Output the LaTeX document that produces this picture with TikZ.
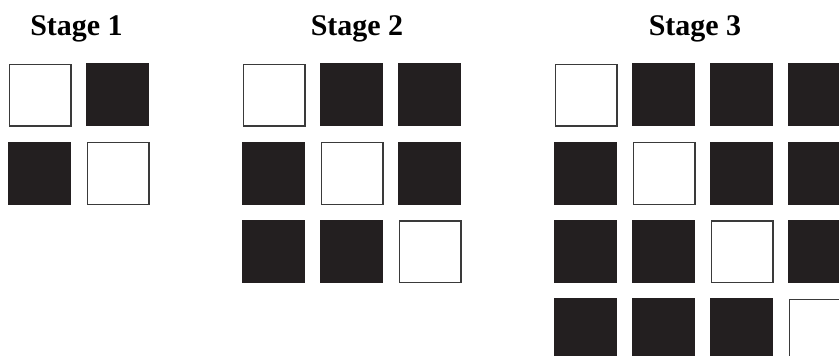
\documentclass[tikz,border=0pt]{standalone}
\usepackage{fontspec}
\setmainfont{Liberation Serif}
\definecolor{sqblack}{HTML}{231F20}
\definecolor{sqedge}{HTML}{3A3A3A}
\begin{document}
\begin{tikzpicture}[x=1pt,y=-1pt,
  blk/.style={rectangle,inner sep=0pt,minimum size=63pt,fill=sqblack,draw=none,anchor=north west},
  wht/.style={rectangle,inner sep=0pt,minimum size=61.6pt,fill=white,draw=sqedge,line width=1.4pt,anchor=north west},
  title/.style={anchor=base,inner sep=0pt,font=\fontsize{30}{30}\selectfont\bfseries}]
\useasboundingbox[fill=white] (0,0) rectangle (839,356);
\node[title] (t1) at (76.5,35) {Stage 1};
\node[title] (t2) at (357,35) {Stage 2};
\node[title] (t3) at (695,35) {Stage 3};
% Stage 1
\foreach \r in {0,1}{\foreach \c in {0,1}{
  \ifnum\r=\c
    \node[wht] (a\r\c) at (8.7+78*\c,63.7+78.3*\r) {};
  \else
    \node[blk] (a\r\c) at (8+78*\c,63+78.3*\r) {};
  \fi}}
% Stage 2
\foreach \r in {0,1,2}{\foreach \c in {0,1,2}{
  \ifnum\r=\c
    \node[wht] (b\r\c) at (242.7+78*\c,63.7+78.3*\r) {};
  \else
    \node[blk] (b\r\c) at (242+78*\c,63+78.3*\r) {};
  \fi}}
% Stage 3
\begin{scope}
\clip (0,0) rectangle (839,356);
\foreach \r in {0,1,2,3}{\foreach \c in {0,1,2,3}{
  \ifnum\r=\c
    \node[wht] (c\r\c) at (554.7+78*\c,63.7+78.3*\r) {};
  \else
    \node[blk] (c\r\c) at (554+78*\c,63+78.3*\r) {};
  \fi}}
\end{scope}
\end{tikzpicture}
\end{document}
